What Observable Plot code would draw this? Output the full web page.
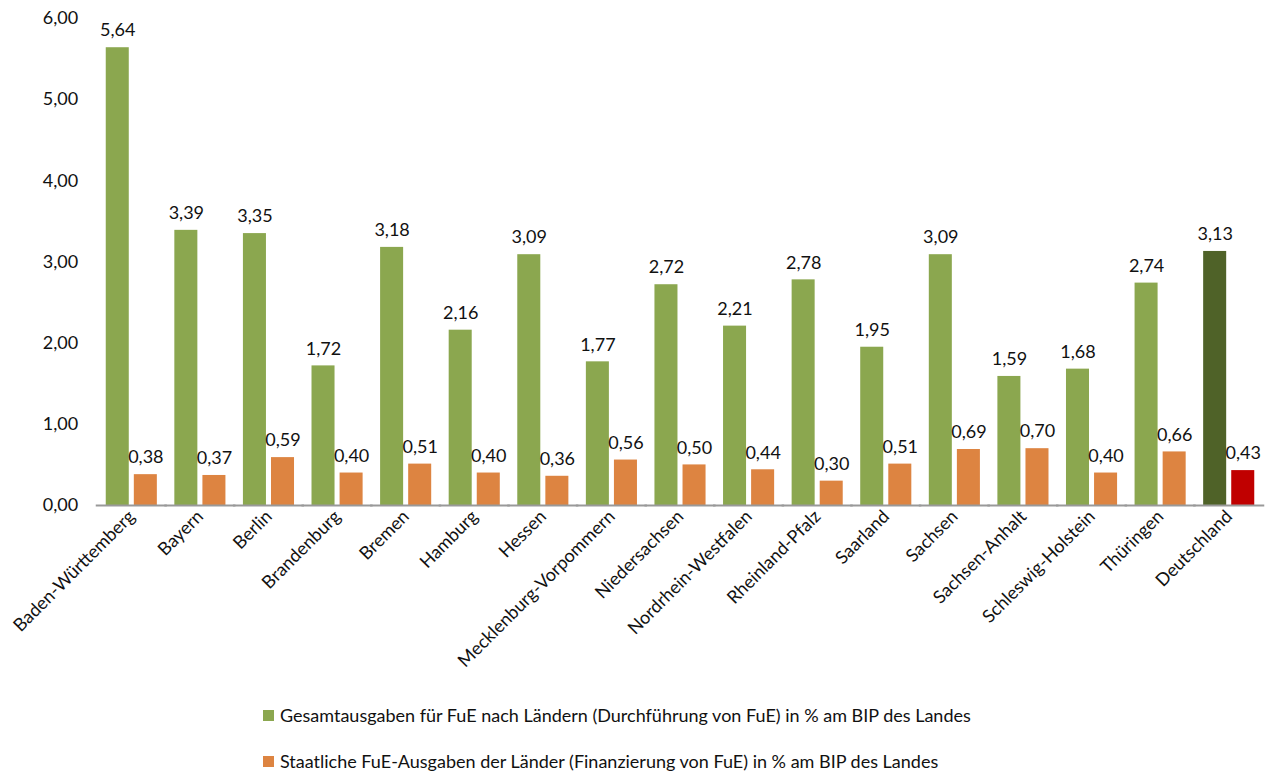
<!DOCTYPE html>
<html><head><meta charset="utf-8">
<script src="https://cdn.jsdelivr.net/npm/d3@7"></script>
<script src="https://cdn.jsdelivr.net/npm/@observablehq/plot@0.6"></script>
<style>
body{margin:0;background:#fff;font-family:Lato,"Open Sans",sans-serif;}
#chart svg{display:block;}
.legend{padding-left:263px;color:#111;font-size:18px;margin-top:-3px;}
.legend .row{display:flex;align-items:center;height:46px;}
.legend .sw{width:11px;height:11px;margin-right:6px;}
</style></head>
<body>
<div id="chart"></div>
<div class="legend" id="legend"></div>
<script>
const laender = ["Baden-Württemberg","Bayern","Berlin","Brandenburg","Bremen","Hamburg","Hessen","Mecklenburg-Vorpommern","Niedersachsen","Nordrhein-Westfalen","Rheinland-Pfalz","Saarland","Sachsen","Sachsen-Anhalt","Schleswig-Holstein","Thüringen","Deutschland"];
const gesamt = [5.64,3.39,3.35,1.72,3.18,2.16,3.09,1.77,2.72,2.21,2.78,1.95,3.09,1.59,1.68,2.74,3.13];
const staatlich = [0.38,0.37,0.59,0.40,0.51,0.40,0.36,0.56,0.50,0.44,0.30,0.51,0.69,0.70,0.40,0.66,0.43];
const seriesNames = ["Gesamtausgaben für FuE nach Ländern (Durchführung von FuE) in % am BIP des Landes","Staatliche FuE-Ausgaben der Länder (Finanzierung von FuE) in % am BIP des Landes"];
const yTicks = [0,1,2,3,4,5,6];

const colors = {g:"#8ba74f", o:"#dd8441", gD:"#4f6228", oD:"#c00000"};
const rows = [];
laender.forEach((l,i)=>{
  rows.push({land:l, s:"g", v:gesamt[i]});
  rows.push({land:l, s:"o", v:staatlich[i]});
});
const fillOf = d => d.land==="Deutschland" ? colors[d.s+"D"] : colors[d.s];
const fmt = v => d3.format(".2f")(v).replace(".", ",");

const plot = Plot.plot({
  width:1269, height:695,
  marginLeft:97, marginRight:6, marginTop:18, marginBottom:190,
  style:{fontFamily:"Lato, 'Open Sans', sans-serif", fontSize:"18px", color:"#111", background:"#fff"},
  fx:{domain:laender, paddingInner:0.255, paddingOuter:0.1275, round:false, label:null},
  x:{domain:["g","o"], paddingInner:0.18, paddingOuter:0, round:false, axis:null},
  y:{domain:[0,6], label:null},
  color:{type:"identity"},
  marks:[
    Plot.axisY({ticks:yTicks, tickFormat:fmt, tickSize:0, tickPadding:28, fontSize:18, fill:"#111"}),
    Plot.axisFx({anchor:"bottom", tickRotate:-45, tickSize:0, tickPadding:8, fontSize:18, label:null, fill:"#111"}),
    Plot.barY(rows, {fx:"land", x:"s", y:"v", fill:fillOf}),
    Plot.ruleY([0], {stroke:"#999", strokeWidth:2, insetLeft:-10, insetRight:-10}),
    Plot.text(rows, {fx:"land", x:"s", y:"v", text:d=>fmt(d.v), dy:-17, fontSize:18, fill:"#111"})
  ]
});
document.getElementById("chart").appendChild(plot);

const lg = document.getElementById("legend");
seriesNames.forEach((n,i)=>{
  const r = document.createElement("div"); r.className="row";
  r.innerHTML = `<span class="sw" style="background:${i===0?colors.g:colors.o}"></span><span>${n}</span>`;
  lg.appendChild(r);
});
</script>
</body></html>
